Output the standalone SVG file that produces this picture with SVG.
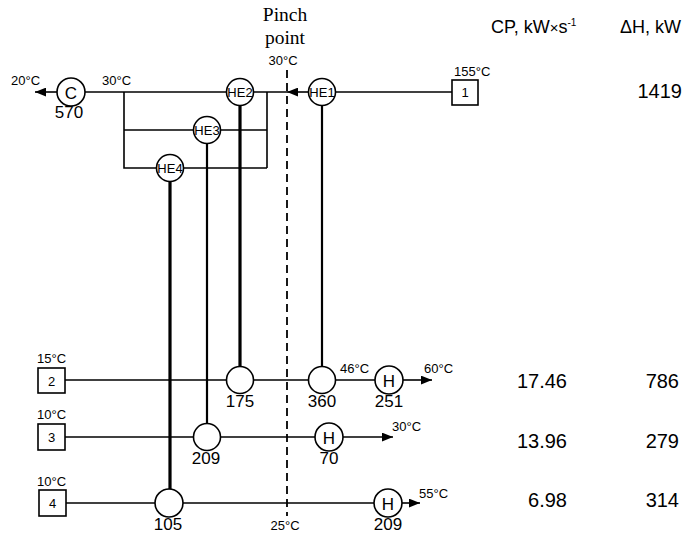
<svg xmlns="http://www.w3.org/2000/svg" width="690" height="535" viewBox="0 0 690 535">
<defs>
<marker id="arr" viewBox="0 0 10 8" refX="10" refY="4" markerWidth="11" markerHeight="9" markerUnits="userSpaceOnUse" orient="auto">
<path d="M0,0 L10,4 L0,8 Z" fill="#000"/>
</marker>
</defs>
<style>
text{font-family:"Liberation Sans",Arial,sans-serif;fill:#000}
.t{font-size:13px}
.n{font-size:17px}
.he{font-size:13px;text-anchor:middle}
.c{text-anchor:middle}
.ser{font-family:"Liberation Serif","Times New Roman",serif;font-size:19.5px;text-anchor:middle}
.node{fill:#fff;stroke:#000;stroke-width:1.6}
.line{stroke:#000;stroke-width:1.6;fill:none}
.thick{stroke:#000;stroke-width:3.2;fill:none}
.mid{stroke:#000;stroke-width:2.2;fill:none}
.hdr{font-size:18px}
.val{font-size:20px}
</style>
<rect width="690" height="535" fill="#fff"/>
<g id="pinch">
<line x1="287" y1="70" x2="287" y2="516" stroke="#000" stroke-width="1.8" stroke-dasharray="8,5"/>
<text class="ser" x="285" y="21">Pinch</text>
<text class="ser" x="285" y="44">point</text>
<text class="t c" x="283" y="65">30°C</text>
<text class="t c" x="285" y="530">25°C</text>
</g>
<g id="connectors">
<line class="line" x1="452" y1="92" x2="336" y2="92"/>
<line class="line" x1="308" y1="92" x2="287" y2="92" marker-end="url(#arr)"/>
<line class="line" x1="287" y1="92" x2="253" y2="92"/>
<line class="line" x1="227" y1="92" x2="85" y2="92"/>
<line class="line" x1="57" y1="92" x2="35" y2="92" marker-end="url(#arr)"/>
<polyline class="line" points="124,92 124,168 156,168"/>
<line class="line" x1="124" y1="130" x2="193" y2="130"/>
<line class="line" x1="220" y1="130" x2="267" y2="130"/>
<line class="line" x1="184" y1="168" x2="267" y2="168"/>
<line class="line" x1="267" y1="92" x2="267" y2="168"/>
<line class="thick" x1="240" y1="105" x2="240" y2="367"/>
<line class="mid" x1="207" y1="143" x2="207" y2="424"/>
<line class="thick" x1="170" y1="181" x2="170" y2="490"/>
<line class="mid" x1="322" y1="105" x2="322" y2="367"/>
<line class="line" x1="65" y1="380" x2="227" y2="380"/>
<line class="line" x1="254" y1="380" x2="308" y2="380"/>
<line class="line" x1="336" y1="380" x2="375" y2="380"/>
<line class="line" x1="403" y1="380" x2="432" y2="380" marker-end="url(#arr)"/>
<line class="line" x1="65" y1="437" x2="193" y2="437"/>
<line class="line" x1="221" y1="437" x2="315" y2="437"/>
<line class="line" x1="343" y1="437" x2="393" y2="437" marker-end="url(#arr)"/>
<line class="line" x1="66" y1="503" x2="155" y2="503"/>
<line class="line" x1="183" y1="503" x2="374" y2="503"/>
<line class="line" x1="402" y1="503" x2="420" y2="503" marker-end="url(#arr)"/>
</g>
<g id="stream1">
<rect class="node" x="452" y="80" width="26" height="25"/>
<text class="t c" x="465" y="97">1</text>
<text class="t" x="454" y="76">155°C</text>
</g>
<g id="HE1"><circle class="node" cx="322" cy="92" r="13.5"/><text class="he" x="322" y="97">HE1</text></g>
<g id="HE2"><circle class="node" cx="240" cy="92" r="13.5"/><text class="he" x="240" y="97">HE2</text></g>
<g id="HE3"><circle class="node" cx="207" cy="130" r="13.5"/><text class="he" x="207" y="135">HE3</text></g>
<g id="HE4"><circle class="node" cx="170" cy="168" r="13.5"/><text class="he" x="170" y="173">HE4</text></g>
<g id="cooler">
<circle class="node" cx="71" cy="92" r="14"/>
<text class="n c" x="71" y="98.5" font-size="18">C</text>
<text class="n c" x="69" y="118">570</text>
<text class="t" x="11" y="85">20°C</text>
<text class="t" x="102" y="85">30°C</text>
</g>
<g id="stream2">
<rect class="node" x="38" y="368" width="27" height="25"/>
<text class="t c" x="51.5" y="385.5">2</text>
<text class="t" x="37" y="363">15°C</text>
</g>
<g id="stream3">
<rect class="node" x="38" y="424" width="27" height="26"/>
<text class="t c" x="51.5" y="442">3</text>
<text class="t" x="37" y="419">10°C</text>
</g>
<g id="stream4">
<rect class="node" x="39" y="490" width="27" height="26"/>
<text class="t c" x="52.5" y="508">4</text>
<text class="t" x="37" y="486">10°C</text>
</g>
<g id="x175"><circle class="node" cx="240" cy="380" r="13.5"/><text class="n c" x="240" y="407">175</text></g>
<g id="x360"><circle class="node" cx="322" cy="380" r="13.5"/><text class="n c" x="322" y="407">360</text></g>
<g id="H251"><circle class="node" cx="389" cy="380" r="14"/><text class="n c" x="389" y="386.5">H</text><text class="n c" x="389" y="407">251</text></g>
<text class="t" x="340" y="373">46°C</text>
<text class="t" x="424" y="373">60°C</text>
<g id="x209"><circle class="node" cx="207" cy="437" r="13.5"/><text class="n c" x="206" y="464">209</text></g>
<g id="H70"><circle class="node" cx="329" cy="437" r="14"/><text class="n c" x="329" y="443.5">H</text><text class="n c" x="329" y="464">70</text></g>
<text class="t" x="392" y="431">30°C</text>
<g id="x105"><circle class="node" cx="169" cy="503" r="14"/><text class="n c" x="168" y="530">105</text></g>
<g id="H209"><circle class="node" cx="388" cy="503" r="14"/><text class="n c" x="388" y="509.5">H</text><text class="n c" x="388" y="530">209</text></g>
<text class="t" x="419" y="498">55°C</text>
<g id="table">
<text class="hdr" x="491" y="33">CP, kW<tspan font-size="15">×</tspan>s<tspan font-size="10" dy="-7">-1</tspan></text>
<text class="hdr" x="620" y="33">ΔH, kW</text>
<text class="val" x="682" y="98" text-anchor="end">1419</text>
<text class="val" x="567" y="388" text-anchor="end">17.46</text>
<text class="val" x="679" y="388" text-anchor="end">786</text>
<text class="val" x="567" y="448" text-anchor="end">13.96</text>
<text class="val" x="679" y="448" text-anchor="end">279</text>
<text class="val" x="567" y="507" text-anchor="end">6.98</text>
<text class="val" x="679" y="507" text-anchor="end">314</text>
</g>
</svg>
